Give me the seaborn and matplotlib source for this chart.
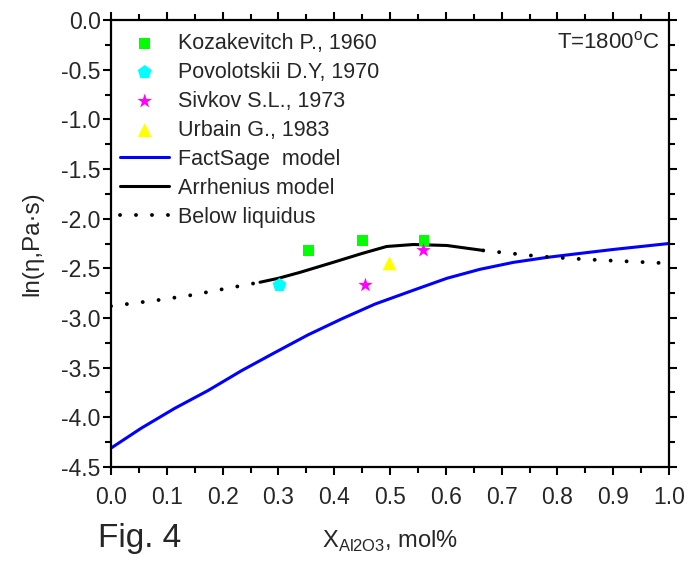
import numpy as np
import pandas as pd
import matplotlib
matplotlib.use("Agg")
import matplotlib.pyplot as plt
import seaborn as sns

# Datos experimentales (X_Al2O3, ln viscosidad)
koz_x = [0.354, 0.451, 0.561]
koz_y = [-2.32, -2.22, -2.22]
pov_x = [0.302]
pov_y = [-2.67]
siv_x = [0.456, 0.560]
siv_y = [-2.67, -2.32]
urb_x = [0.499]
urb_y = [-2.45]

# Modelos
fact_x = [0.0, 0.054, 0.114, 0.174, 0.234, 0.293, 0.353, 0.413, 0.473, 0.542,
          0.602, 0.661, 0.721, 0.781, 0.840, 0.900, 1.0]
fact_y = [-4.31, -4.11, -3.91, -3.73, -3.53, -3.35, -3.17, -3.01, -2.86, -2.72,
          -2.60, -2.51, -2.44, -2.39, -2.35, -2.31, -2.25]
arr_x = [0.267, 0.30, 0.339, 0.398, 0.45, 0.494, 0.542, 0.602, 0.667]
arr_y = [-2.64, -2.60, -2.54, -2.44, -2.35, -2.28, -2.26, -2.27, -2.32]
liq1_x = [0.0, 0.084, 0.144, 0.20, 0.267]
liq1_y = [-2.88, -2.82, -2.77, -2.71, -2.64]
liq2_x = [0.667, 0.768, 0.852, 1.0]
liq2_y = [-2.32, -2.38, -2.41, -2.45]

sns.set_style("ticks")
plt.rcParams['font.family'] = ['Liberation Sans', 'DejaVu Sans']
plt.rcParams['mathtext.fontset'] = 'custom'
plt.rcParams['mathtext.rm'] = 'Liberation Sans'
plt.rcParams['xtick.direction'] = 'out'
plt.rcParams['ytick.direction'] = 'out'

fig = plt.figure(figsize=(6.92, 5.64), dpi=100)
ax = fig.add_axes([0.1604, 0.172, 0.8064, 0.7925])

sns.lineplot(x=fact_x, y=fact_y, ax=ax, color='#0000FF', lw=2.2, label='FactSage  model', sort=False)
sns.lineplot(x=arr_x, y=arr_y, ax=ax, color='black', lw=2.2, label='Arrhenius model', sort=False)
sns.lineplot(x=liq1_x, y=liq1_y, ax=ax, color='black', lw=2.8, ls=(0, (0.01, 4.1)),
             dash_capstyle='round', label='Below liquidus', sort=False)
sns.lineplot(x=liq2_x, y=liq2_y, ax=ax, color='black', lw=2.8, ls=(0, (0.01, 4.1)),
             dash_capstyle='round', sort=False)

sns.scatterplot(x=koz_x, y=koz_y, ax=ax, marker='s', color='#00FF00', s=60, edgecolor='none',
                label='Kozakevitch P., 1960', zorder=5)
sns.scatterplot(x=pov_x, y=pov_y, ax=ax, marker='p', color='#00FFFF', s=110, edgecolor='none',
                label='Povolotskii D.Y, 1970', zorder=5)
sns.scatterplot(x=siv_x, y=siv_y, ax=ax, marker='*', color='#FF00FF', s=120, edgecolor='none',
                label='Sivkov S.L., 1973', zorder=5)
sns.scatterplot(x=urb_x, y=urb_y, ax=ax, marker='^', color='#FFFF00', s=100, edgecolor='none',
                label='Urbain G., 1983', zorder=5)

ax.set_xlim(0, 1.0)
ax.set_ylim(-4.5, 0.0)
ax.set_xticks(np.arange(0, 1.01, 0.1))
ax.set_yticks(np.arange(-4.5, 0.01, 0.5))
ax.set_xticks(np.arange(0.05, 1.0, 0.1), minor=True)
ax.set_yticks(np.arange(-4.25, 0.0, 0.5), minor=True)
ax.xaxis.set_major_formatter(matplotlib.ticker.FormatStrFormatter('%.1f'))
ax.yaxis.set_major_formatter(matplotlib.ticker.FormatStrFormatter('%.1f'))
ax.tick_params(which='both', top=True, right=True, labelsize=16.5, width=1.5, color='black')
ax.tick_params(which='major', length=6)
ax.tick_params(which='minor', length=4)
ax.tick_params(axis='y', pad=1.5)
ax.tick_params(axis='x', pad=8)
for sp in ax.spines.values():
    sp.set_linewidth(1.6)
    sp.set_color('black')

ax.set_ylabel('ln(\u03b7,Pa\u00b7s)', fontsize=17.5)
ax.yaxis.set_label_coords(-0.122, 0.5)
ax.set_xlabel(r'X$_{\mathregular{Al2O3}}$, mol%', fontsize=17)
ax.xaxis.set_label_coords(0.5, -0.138)
fig.text(0.142, 0.030, 'Fig. 4', fontsize=24, va='baseline')
ax.text(0.984, 0.949, r'T=1800$^{\mathregular{o}}$C', transform=ax.transAxes, ha='right',
        va='center', fontsize=16)

h, l = ax.get_legend_handles_labels()
orden = [3, 4, 5, 6, 0, 1, 2]
ax.legend([h[i] for i in orden], [l[i] for i in orden], loc='upper left',
          bbox_to_anchor=(0.016, 0.971), frameon=False, fontsize=15.5, handlelength=2.3,
          handletextpad=0.4, labelspacing=0.37, borderpad=0, borderaxespad=0)

fig.savefig('out.png', dpi=100)
